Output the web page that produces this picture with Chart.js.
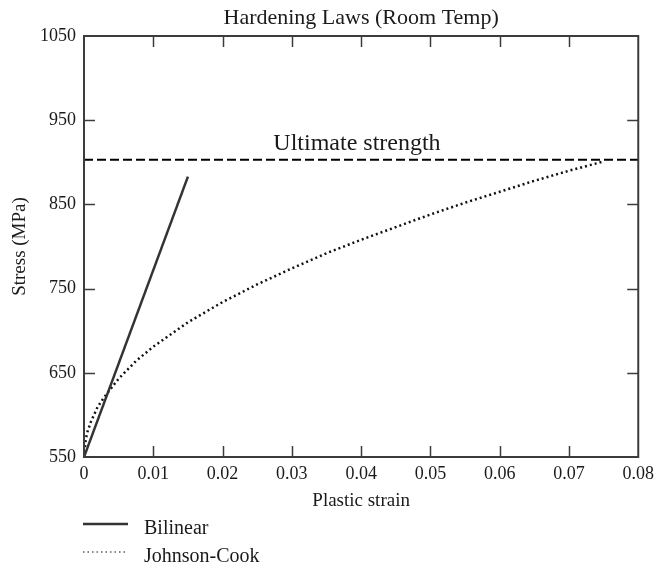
<!DOCTYPE html>
<html>
<head>
<meta charset="utf-8">
<script src="https://cdn.jsdelivr.net/npm/chart.js@4"></script>
<style>
  html, body { margin: 0; padding: 0; background: #fff; }
  #hardening { display: block; }
</style>
</head>
<body>
<canvas id="hardening" width="660" height="566"></canvas>
<script>
// data
const bilinearStrain = [0, 0.015];
const bilinearStress = [550, 883];

const jcStrain = [0, 0.00025, 0.0005, 0.001, 0.002, 0.003, 0.005, 0.0075, 0.01, 0.015, 0.02,
  0.025, 0.03, 0.035, 0.04, 0.045, 0.05, 0.055, 0.06, 0.065, 0.07, 0.075];
const jcStress = [550, 571, 580, 592, 610, 622, 643, 664, 681, 710, 734,
  755, 774, 792, 808, 823, 838, 852, 865, 878, 890, 901];

const ultimateStrain = [0, 0.08];
const ultimateStress = [903, 903];

const xTicks = [0, 0.01, 0.02, 0.03, 0.04, 0.05, 0.06, 0.07, 0.08];
const xTickLabels = ["0", "0.01", "0.02", "0.03", "0.04", "0.05", "0.06", "0.07", "0.08"];
const yTicks = [550, 650, 750, 850, 950, 1050];
const yTickLabels = ["550", "650", "750", "850", "950", "1050"];

const SERIF = "'Liberation Serif', 'Times New Roman', serif";
const INK = "#1a1a1a";

const toPoints = (xs, ys) => xs.map((v, i) => ({ x: v, y: ys[i] }));

// frame, inward ticks, titles, label and legend
const decor = {
  id: "decor",
  afterDraw(chart) {
    const { ctx, chartArea: a, scales } = chart;
    const x = scales.x, y = scales.y;
    ctx.save();

    ctx.strokeStyle = "#3c3c3c";
    ctx.lineWidth = 2;
    ctx.strokeRect(a.left, a.top, a.right - a.left, a.bottom - a.top);

    ctx.lineWidth = 1.5;
    ctx.beginPath();
    xTicks.slice(1, -1).forEach(v => {
      const px = Math.round(x.getPixelForValue(v)) + 0.5;
      ctx.moveTo(px, a.bottom); ctx.lineTo(px, a.bottom - 11);
      ctx.moveTo(px, a.top); ctx.lineTo(px, a.top + 11);
    });
    yTicks.slice(1, -1).forEach(v => {
      const py = Math.round(y.getPixelForValue(v)) + 0.5;
      ctx.moveTo(a.left, py); ctx.lineTo(a.left + 11, py);
      ctx.moveTo(a.right, py); ctx.lineTo(a.right - 11, py);
    });
    ctx.stroke();

    ctx.fillStyle = INK;
    ctx.textAlign = "center";
    ctx.textBaseline = "alphabetic";

    ctx.font = "22px " + SERIF;
    ctx.fillText("Hardening Laws (Room Temp)", (a.left + a.right) / 2, 24);

    ctx.font = "24px " + SERIF;
    ctx.fillText("Ultimate strength", x.getPixelForValue(0.0394), y.getPixelForValue(ultimateStress[0]) - 10);

    ctx.font = "19px " + SERIF;
    ctx.fillText("Plastic strain", (a.left + a.right) / 2, 506);

    ctx.save();
    ctx.translate(25, (a.top + a.bottom) / 2);
    ctx.rotate(-Math.PI / 2);
    ctx.fillText("Stress (MPa)", 0, 0);
    ctx.restore();

    // legend
    const sets = chart.data.datasets.filter(d => d.inLegend);
    ctx.textAlign = "left";
    ctx.font = "20px " + SERIF;
    sets.forEach((d, i) => {
      const ly = 524 + i * 28;
      ctx.strokeStyle = d.borderColor;
      ctx.lineWidth = i === 0 ? 2.5 : 1;
      ctx.setLineDash(i === 0 ? [] : [1.5, 3]);
      ctx.beginPath();
      ctx.moveTo(83, ly); ctx.lineTo(128, ly);
      ctx.stroke();
      ctx.setLineDash([]);
      ctx.fillText(d.label, 144, ly + 10);
    });

    ctx.restore();
  }
};

new Chart(document.getElementById("hardening"), {
  type: "line",
  data: {
    datasets: [
      {
        label: "Bilinear",
        inLegend: true,
        data: toPoints(bilinearStrain, bilinearStress),
        borderColor: "#333333",
        borderWidth: 2.5,
        pointRadius: 0,
        tension: 0
      },
      {
        label: "Johnson-Cook",
        inLegend: true,
        data: toPoints(jcStrain, jcStress),
        borderColor: "#111111",
        borderWidth: 2.5,
        borderDash: [2, 3],
        pointRadius: 0,
        tension: 0
      },
      {
        label: "Ultimate strength",
        inLegend: false,
        data: toPoints(ultimateStrain, ultimateStress),
        borderColor: "#000000",
        borderWidth: 2,
        borderDash: [9, 4],
        pointRadius: 0,
        tension: 0
      }
    ]
  },
  options: {
    responsive: false,
    animation: false,
    devicePixelRatio: 1,
    layout: { padding: { top: 36, right: 19, left: 0, bottom: 0 } },
    plugins: {
      legend: { display: false },
      title: { display: false },
      tooltip: { enabled: false }
    },
    scales: {
      x: {
        type: "linear",
        min: 0,
        max: 0.08,
        grid: { display: false, drawTicks: false },
        border: { display: false },
        afterBuildTicks: s => { s.ticks = xTicks.map(v => ({ value: v })); },
        afterFit: s => { s.height = 109; },
        ticks: {
          autoSkip: false,
          maxRotation: 0,
          padding: 6,
          color: INK,
          font: { family: SERIF, size: 18 },
          callback: (v, i) => xTickLabels[i]
        }
      },
      y: {
        type: "linear",
        min: 550,
        max: 1050,
        grid: { display: false, drawTicks: false },
        border: { display: false },
        afterBuildTicks: s => { s.ticks = yTicks.map(v => ({ value: v })); },
        afterFit: s => { s.width = 84; },
        ticks: {
          autoSkip: false,
          padding: 8,
          color: INK,
          font: { family: SERIF, size: 18 },
          callback: (v, i) => yTickLabels[i]
        }
      }
    }
  },
  plugins: [decor]
});
</script>
</body>
</html>
